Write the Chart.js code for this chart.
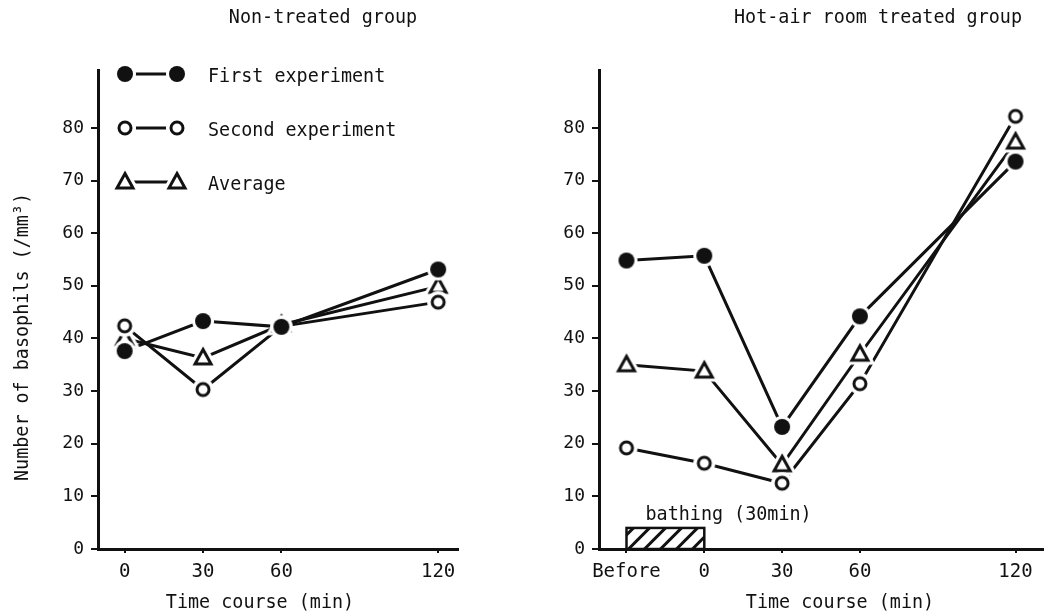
<!DOCTYPE html>
<html>
<head>
<meta charset="utf-8">
<script src="https://cdn.jsdelivr.net/npm/chart.js@4.4.1/dist/chart.umd.min.js"></script>
<style>
body { margin: 0; background: #fff; width: 1055px; height: 615px; overflow: hidden; position: relative; }
canvas { position: absolute; top: 0; }
#left { left: 0; }
#right { left: 540px; }
</style>
</head>
<body>
<canvas id="left" width="470" height="615"></canvas>
<canvas id="right" width="515" height="615"></canvas>
<script>
// values (basophils /mm3)
var leftTimes = [0, 30, 60, 120];
var leftTickLabels = ['0', '30', '60', '120'];
var leftFirst = [37.6, 43.3, 42.2, 53.1];
var leftSecond = [42.4, 30.3, 42.3, 46.9];
var leftAverage = [40.0, 36.3, 42.6, 49.9];

var rightTimes = [-30, 0, 30, 60, 120];
var rightTickLabels = ['Before', '0', '30', '60', '120'];
var rightFirst = [54.8, 55.7, 23.2, 44.2, 73.6];
var rightSecond = [19.2, 16.3, 12.5, 31.4, 82.2];
var rightAverage = [35.0, 33.8, 16.0, 37.0, 77.3];

var yTicks = [0, 10, 20, 30, 40, 50, 60, 70, 80];
var bathingSpan = [-30, 0];
var bathingLevel = 4;

var INK = '#111';
var FONT = "'DejaVu Sans Mono'";

function makeMarker(kind) {
    var c = document.createElement('canvas');
    c.width = 30; c.height = 30;
    var g = c.getContext('2d');
    g.translate(15, 15);
    g.lineWidth = 3;
    g.strokeStyle = INK;
    g.lineJoin = 'miter';
    if (kind == 'triangle') {
        g.beginPath();
        g.moveTo(0, -8.5); g.lineTo(8, 6); g.lineTo(-8, 6); g.closePath();
        g.strokeStyle = '#fff'; g.lineWidth = 9; g.stroke();
        g.fillStyle = '#fff'; g.fill();
        g.strokeStyle = INK; g.lineWidth = 3; g.stroke();
    } else {
        g.fillStyle = '#fff';
        g.beginPath(); g.arc(0, 0, 11, 0, Math.PI * 2); g.fill();
        if (kind == 'filled') {
            g.fillStyle = INK;
            g.beginPath(); g.arc(0, 0, 8, 0, Math.PI * 2); g.fill();
        } else {
            g.beginPath(); g.arc(0, 0, 6, 0, Math.PI * 2); g.stroke();
        }
    }
    return c;
}

var markers = {
    filled: makeMarker('filled'),
    open: makeMarker('open'),
    triangle: makeMarker('triangle')
};

function points(times, vals) {
    var out = [];
    for (var i = 0; i < times.length; i++) out.push({x: times[i], y: vals[i]});
    return out;
}

function buildDatasets(times, first, second, avg) {
    var list = [
        [first, 'filled', 'First experiment'],
        [second, 'open', 'Second experiment'],
        [avg, 'triangle', 'Average']
    ];
    var ds = [];
    list.forEach(function (s) {
        ds.push({ label: s[2], data: points(times, s[0]), borderColor: INK, borderWidth: 3,
                  pointRadius: 0, tension: 0, order: 2, clip: false });
    });
    list.forEach(function (s) {
        ds.push({ label: s[2] + ' marks', data: points(times, s[0]), showLine: false,
                  pointStyle: markers[s[1]], pointRadius: 11, order: 1, clip: false });
    });
    return ds;
}

// typewriter-ish text: slightly condensed mono
function text(ctx, str, x, y, align) {
    ctx.save();
    ctx.font = '20px ' + FONT;
    ctx.fillStyle = INK;
    ctx.textAlign = align || 'center';
    ctx.textBaseline = 'middle';
    ctx.translate(x, y);
    ctx.scale(0.92, 1);
    ctx.fillText(str, 0, 0);
    ctx.restore();
}

var leftDecor = {
    id: 'leftDecor',
    afterDraw: function (chart) {
        var ctx = chart.ctx;
        text(ctx, 'Non-treated group', 323, 18);
        text(ctx, 'Time course (min)', 260, 603);
        ctx.save();
        ctx.translate(23, 337);
        ctx.rotate(-Math.PI / 2);
        text(ctx, 'Number of basophils (/mm\u00b3)', 0, 0);
        ctx.restore();
        // legend
        var rows = [['filled', 'First experiment', 74], ['open', 'Second experiment', 128], ['triangle', 'Average', 182]];
        rows.forEach(function (r) {
            ctx.save();
            ctx.strokeStyle = INK; ctx.lineWidth = 3;
            ctx.beginPath(); ctx.moveTo(125, r[2]); ctx.lineTo(177, r[2]); ctx.stroke();
            ctx.restore();
            var m = markers[r[0]];
            ctx.drawImage(m, 125 - 15, r[2] - 15);
            ctx.drawImage(m, 177 - 15, r[2] - 15);
            text(ctx, r[1], 208, r[2] + 3, 'left');
        });
    }
};

var rightDecor = {
    id: 'rightDecor',
    afterDraw: function (chart) {
        var ctx = chart.ctx;
        text(ctx, 'Hot-air room treated group', 338, 18);
        text(ctx, 'Time course (min)', 300, 603);
        var xs = chart.scales.x, ys = chart.scales.y;
        var x1 = xs.getPixelForValue(bathingSpan[0]), x2 = xs.getPixelForValue(bathingSpan[1]);
        var y1 = ys.getPixelForValue(bathingLevel), y2 = ys.getPixelForValue(0);
        ctx.save();
        ctx.fillStyle = '#fff';
        ctx.fillRect(x1, y1, x2 - x1, y2 - y1);
        ctx.beginPath(); ctx.rect(x1, y1, x2 - x1, y2 - y1); ctx.clip();
        ctx.strokeStyle = INK; ctx.lineWidth = 3;
        for (var hx = x1 - 30; hx < x2 + 30; hx += 16) {
            ctx.beginPath(); ctx.moveTo(hx, y2); ctx.lineTo(hx + (y2 - y1), y1); ctx.stroke();
        }
        ctx.restore();
        ctx.save();
        ctx.strokeStyle = INK; ctx.lineWidth = 2.5;
        ctx.strokeRect(x1, y1, x2 - x1, y2 - y1);
        ctx.restore();
        text(ctx, 'bathing (30min)', x1 + 19, y1 - 13, 'left');
    }
};

function makeChart(id, times, tickLabels, first, second, avg, xmin, xmax, yWidth, padRight, plugin) {
    return new Chart(id, {
        type: 'line',
        data: { datasets: buildDatasets(times, first, second, avg) },
        options: {
            responsive: false,
            animation: false,
            events: [],
            layout: { padding: { top: 70, right: padRight, left: 0, bottom: 0 } },
            plugins: { legend: { display: false }, tooltip: { enabled: false } },
            scales: {
                x: {
                    type: 'linear', min: xmin, max: xmax,
                    afterBuildTicks: function (scale) {
                        scale.ticks = times.map(function (v) { return {value: v}; });
                    },
                    afterFit: function (scale) { scale.height = 66; },
                    ticks: {
                        autoSkip: false, maxRotation: 0, padding: 8, color: INK,
                        font: { family: FONT, size: 19 },
                        callback: function (v) { return tickLabels[times.indexOf(v)]; }
                    },
                    grid: { drawOnChartArea: false, tickLength: 4, color: INK, lineWidth: 2 },
                    border: { display: true, color: INK, width: 3 }
                },
                y: {
                    min: 0, max: 91,
                    afterBuildTicks: function (scale) {
                        scale.ticks = yTicks.map(function (v) { return {value: v}; });
                    },
                    afterFit: function (scale) { scale.width = yWidth; },
                    ticks: { padding: 7, color: INK, font: { family: FONT, size: 18 } },
                    grid: { drawOnChartArea: false, tickLength: 7, color: INK, lineWidth: 2 },
                    border: { display: true, color: INK, width: 3 }
                }
            }
        },
        plugins: [plugin]
    });
}

makeChart('left', leftTimes, leftTickLabels, leftFirst, leftSecond, leftAverage, -10.2, 127.6, 98, 8, leftDecor);
makeChart('right', rightTimes, rightTickLabels, rightFirst, rightSecond, rightAverage, -40.6, 130.6, 59, 5, rightDecor);
</script>
</body>
</html>
